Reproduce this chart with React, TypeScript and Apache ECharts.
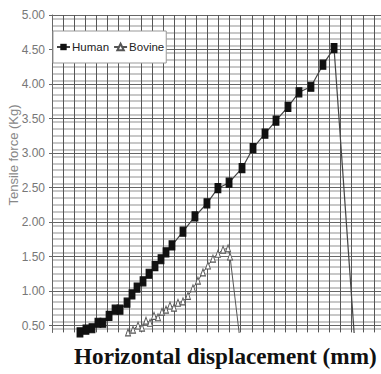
import React, { useEffect, useRef } from "react";
import * as echarts from "echarts";

const seriesNames = ["Human", "Bovine"];

const humanX = [2.52, 3.06, 3.6, 4.14, 4.59, 5.14, 5.68, 6.13, 6.76, 7.21, 7.66, 8.2, 8.74, 9.28, 9.82, 10.27, 10.81, 11.8, 12.88, 13.96, 14.95, 15.95, 17.12, 18.11, 19.19, 20.18, 21.26, 22.25, 23.33, 24.41, 25.41, 27.39];
const humanY = [0.4, 0.44, 0.46, 0.54, 0.54, 0.64, 0.73, 0.73, 0.83, 0.95, 1.05, 1.14, 1.25, 1.36, 1.46, 1.56, 1.66, 1.86, 2.08, 2.27, 2.49, 2.57, 2.78, 3.07, 3.28, 3.47, 3.67, 3.88, 3.96, 4.28, 4.52, 0.0];

const bovineX = [6.85, 7.3, 7.75, 8.11, 8.47, 8.83, 9.19, 9.55, 9.91, 10.27, 10.63, 10.99, 11.35, 11.8, 12.25, 12.7, 13.15, 13.6, 14.05, 14.5, 14.95, 15.41, 15.86, 16.04, 17.15];
const bovineY = [0.4, 0.44, 0.5, 0.47, 0.57, 0.54, 0.64, 0.62, 0.7, 0.73, 0.79, 0.76, 0.83, 0.85, 0.93, 1.04, 1.15, 1.27, 1.37, 1.47, 1.54, 1.6, 1.62, 1.5, 0.0];

const yLabelValues = [0.5, 1.0, 1.5, 2.0, 2.5, 3.0, 3.5, 4.0, 4.5, 5.0];

const yAxisTitle = "Tensile force (Kg)";
const xAxisTitle = "Horizontal displacement (mm)";

const SANS = '"Liberation Sans", Arial, sans-serif';

function toData(xs: number[], ys: number[]) {
  return xs.map((x, i) => {
    const item: any = { value: [x, ys[i]] };
    if (i === xs.length - 1 && ys[i] === 0) item.symbol = "none";
    return item;
  });
}

export default function App() {
  const ref = useRef<HTMLDivElement>(null);
  useEffect(() => {
    const chart = echarts.init(ref.current!, null, { renderer: "svg" });
    chart.setOption({
      animation: false,
      backgroundColor: "#fff",
      grid: { left: 52, right: 0, top: 15, bottom: 41.6, containLabel: false },
      legend: {
        data: seriesNames,
        left: 53,
        top: 31,
        orient: "horizontal",
        backgroundColor: "#fff",
        borderColor: "#999",
        borderWidth: 1,
        borderRadius: 0,
        padding: [10, 2, 10, 3],
        itemGap: 4,
        itemWidth: 13,
        itemHeight: 8,
        textStyle: { fontFamily: SANS, fontSize: 11.5, color: "#222", padding: [0, 0, 0, -3] },
      },
      xAxis: {
        type: "value",
        min: 0,
        max: 29.64,
        interval: 1,
        axisLine: { show: false },
        axisTick: { show: false },
        axisLabel: { show: false },
        splitLine: { show: true, lineStyle: { color: "#555", width: 1 } },
      },
      yAxis: {
        type: "value",
        min: 0.4,
        max: 5,
        interval: 0.1,
        axisLine: { show: true, lineStyle: { color: "#666", width: 1 } },
        axisTick: { show: true, length: 3, customValues: yLabelValues, lineStyle: { color: "#666" } },
        axisLabel: {
          customValues: yLabelValues,
          formatter: (v: number) => v.toFixed(2),
          fontFamily: SANS,
          fontSize: 12,
          color: "#777",
          margin: 7,
        },
        splitLine: { show: true, lineStyle: { color: "#666", width: 1 } },
        minorTick: { show: false, splitNumber: 2 },
        minorSplitLine: { show: true, lineStyle: { color: "#c8c8c8", width: 2 } },
      },
      graphic: [
        {
          type: "text",
          x: 13,
          y: 155,
          rotation: Math.PI / 2,
          style: {
            text: yAxisTitle,
            fontFamily: SANS,
            fontSize: 13,
            fill: "#888",
            align: "center",
            verticalAlign: "middle",
          },
        },
        {
          type: "text",
          x: 74,
          y: 356,
          style: {
            text: xAxisTitle,
            fontFamily: '"Liberation Serif", "Times New Roman", serif',
            fontWeight: "bold",
            fontSize: 23.2,
            fill: "#111",
            align: "left",
            verticalAlign: "middle",
          },
        },
      ],
      series: [
        {
          name: seriesNames[0],
          type: "line",
          data: toData(humanX, humanY),
          symbol: "rect",
          symbolSize: [6, 9],
          itemStyle: { color: "#111", borderColor: "#111" },
          lineStyle: { color: "#444", width: 1.2 },
          z: 3,
        },
        {
          name: seriesNames[1],
          type: "line",
          data: toData(bovineX, bovineY),
          symbol: "triangle",
          symbolSize: [5, 7],
          itemStyle: { color: "#fff", borderColor: "#555", borderWidth: 1 },
          lineStyle: { color: "#555", width: 1 },
          z: 2,
        },
      ],
    });
    return () => chart.dispose();
  }, []);
  return <div ref={ref} style={{ position: "fixed", left: 0, top: 0, width: 381, height: 374 }} />;
}
